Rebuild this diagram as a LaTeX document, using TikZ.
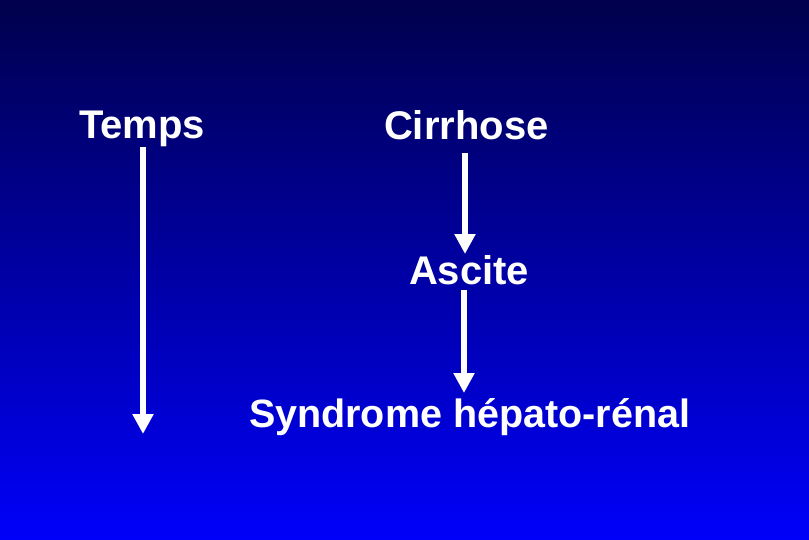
\documentclass[tikz,border=0pt]{standalone}
\usepackage{fontspec}
\setmainfont{Liberation Sans}
\usetikzlibrary{arrows.meta}
\definecolor{bgtop}{RGB}{0,0,76}
\definecolor{bgbot}{RGB}{0,0,250}
\begin{document}
\begin{tikzpicture}[x=1pt,y=-1pt,
  lbl/.style={inner sep=0pt, outer sep=0pt, text=white, font=\fontsize{40}{44}\selectfont\bfseries, anchor=base west},
  arr/.style={draw=white, line width=5.5pt, -{Triangle[width=20pt,length=20pt]}}]
\shade[top color=bgtop, bottom color=bgbot] (0,0) rectangle (809,539);
\useasboundingbox (0,0) rectangle (809,539);
\node[lbl] (temps) at (79,138) {Temps};
\node[lbl] (cir) at (384,139) {Cirrhose};
\node[lbl] (asc) at (409,284) {Ascite};
\node[lbl, font=\fontsize{39.5}{44}\selectfont\bfseries] (syn) at (249,427) {Syndrome hépato-rénal};
\coordinate (tend) at (143,434);
\draw[arr] ([yshift=-1pt]temps.south -| tend) -- (tend);
\draw[arr] ([yshift=-14pt]cir.south -| 465,0) -- ([yshift=1pt]asc.north -| 465,0);
\draw[arr] ([yshift=-6pt]asc.south -| 464,0) -- ([yshift=5pt]syn.north -| 464,0);
\end{tikzpicture}
\end{document}
